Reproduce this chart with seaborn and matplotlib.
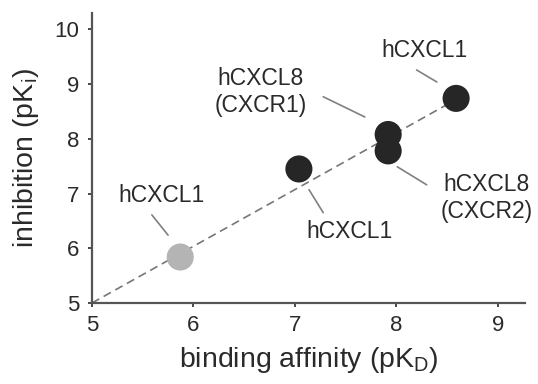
import matplotlib
matplotlib.use("Agg")
import matplotlib.pyplot as plt
import seaborn as sns
import pandas as pd

# data
labels = ["hCXCL1", "hCXCL1", "hCXCL8\n(CXCR1)", "hCXCL8\n(CXCR2)", "hCXCL1"]
affinity = [5.87, 7.04, 7.92, 7.92, 8.59]
inhibition = [5.84, 7.45, 8.08, 7.78, 8.74]
groups = ["light", "dark", "dark", "dark", "dark"]
fit_x = [5.0, 8.59]
fit_y = [5.0, 8.72]
x_ticks = [5, 6, 7, 8, 9]
y_ticks = [5, 6, 7, 8, 9, 10]

df = pd.DataFrame({"label": labels, "x": affinity, "y": inhibition, "g": groups})

sns.set_style("ticks")
plt.rcParams["font.family"] = ["Liberation Sans", "DejaVu Sans"]

fig = plt.figure(figsize=(5.38, 3.84), dpi=100)
ax = fig.add_axes([0.171, 0.211, 0.805, 0.755])

sns.lineplot(x=fit_x, y=fit_y, ax=ax, color="#777777", linestyle=(0, (5, 3)),
             linewidth=1.2, zorder=1)
sns.scatterplot(data=df, x="x", y="y", hue="g",
                palette={"light": "#b4b4b4", "dark": "#262626"},
                s=380, edgecolor="none", legend=False, ax=ax, zorder=3)

# annotations: label index, text centre, leader line start, leader line end
ann = [
    (0, (5.69, 6.97), (5.59, 6.61), (5.75, 6.24)),
    (1, (7.54, 6.30), (7.14, 7.07), (7.28, 6.65)),
    (2, (6.66, 8.86), (7.28, 8.77), (7.69, 8.40)),
    (3, (8.89, 6.92), (8.01, 7.49), (8.30, 7.16)),
    (4, (8.28, 9.61), (8.20, 9.26), (8.40, 9.04)),
]
for i, tpos, a, b in ann:
    ax.text(tpos[0], tpos[1], labels[i], ha="center", va="center", fontsize=16.5,
            linespacing=1.25, color="#2a2a2a")
    ax.plot([a[0], b[0]], [a[1], b[1]], color="#808080", linewidth=1.2)

ax.set_xlim(5, 9.27)
ax.set_ylim(5, 10.3)
ax.set_xticks(x_ticks)
ax.set_yticks(y_ticks)
ax.tick_params(labelsize=16, length=3, width=1.2, pad=6, colors="#2a2a2a")
ax.set_xlabel("binding affinity (pK$_\\mathregular{D}$)", fontsize=20.5, labelpad=6,
              color="#2a2a2a")
ax.set_ylabel("inhibition (pK$_\\mathregular{i}$)", fontsize=20.5, labelpad=10,
              color="#2a2a2a")
for s in ["top", "right"]:
    ax.spines[s].set_visible(False)
for s in ["left", "bottom"]:
    ax.spines[s].set_linewidth(1.6)
    ax.spines[s].set_color("#555555")

fig.savefig("out.png", dpi=100)
